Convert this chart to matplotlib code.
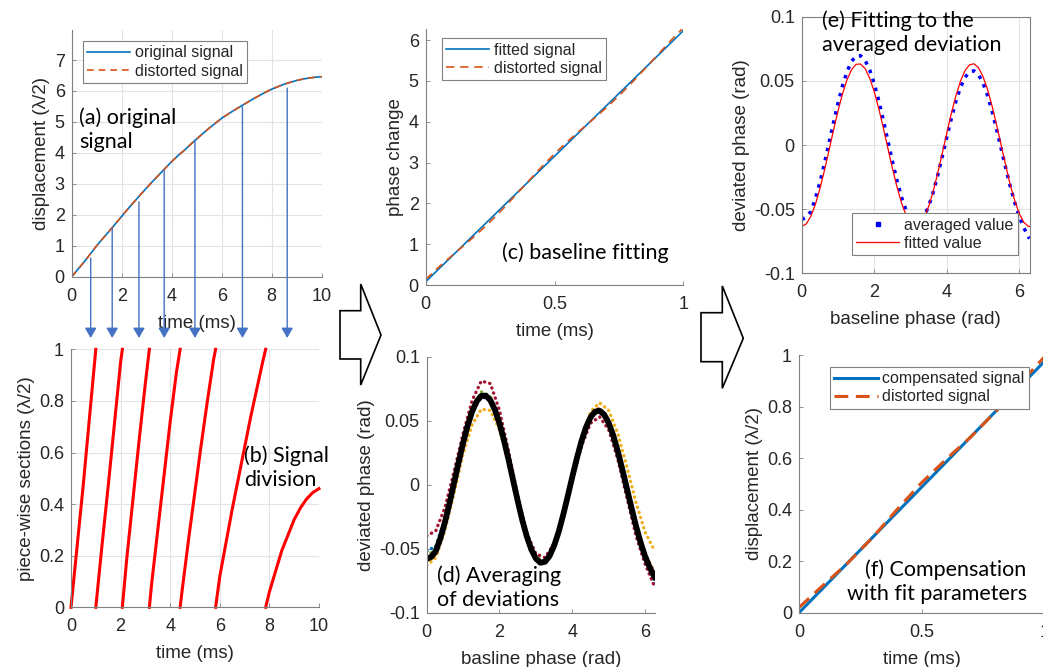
import numpy as np
import matplotlib
matplotlib.use('Agg')
import matplotlib.pyplot as plt
from matplotlib.patches import Polygon
from matplotlib.lines import Line2D

W, H = 1043, 667

# (a) original / distorted displacement (lambda/2) vs time (ms)
time_ms = np.array([0, 0.25, 0.5, 0.75, 1, 1.25, 1.5, 1.75, 2, 2.25, 2.5, 2.75, 3, 3.25, 3.5,
                    3.75, 4, 4.25, 4.5, 4.75, 5, 5.25, 5.5, 5.75, 6, 6.25, 6.5, 6.75, 7, 7.25,
                    7.5, 7.75, 8, 8.25, 8.5, 8.75, 9, 9.25, 9.5, 9.75, 10])
disp = np.array([0, 0.24, 0.48, 0.74, 1.0, 1.24, 1.47, 1.71, 1.95, 2.19, 2.42, 2.65, 2.87, 3.09,
                 3.3, 3.51, 3.72, 3.91, 4.08, 4.27, 4.45, 4.63, 4.8, 4.96, 5.12, 5.25, 5.38, 5.5,
                 5.62, 5.74, 5.85, 5.96, 6.06, 6.14, 6.22, 6.28, 6.34, 6.385, 6.42, 6.445, 6.46])
# times where the signal crosses a whole lambda/2 step
crossings = [1.0, 2.07, 3.16, 4.4, 5.83, 7.85]
# arrows from the curve down to panel (b)
arrow_t = [0.76, 1.62, 2.69, 3.70, 4.93, 6.83, 8.62]
arrow_top = [0.6, 1.57, 2.42, 3.45, 4.42, 5.49, 6.09]

# (c) phase change vs time
t_c = [0, 0.05, 0.1, 0.15, 0.2, 0.25, 0.3, 0.35, 0.4, 0.45, 0.5, 0.55, 0.6, 0.65,
       0.7, 0.75, 0.8, 0.85, 0.9, 0.95, 1.0]
fit_t = [0, 1]
fit_phase = [0.08, 6.23]
dist_phase = [0.138, 0.435, 0.709, 0.977, 1.252, 1.548, 1.867, 2.207, 2.554, 2.895, 3.216,
              3.514, 3.791, 4.062, 4.339, 4.635, 4.954, 5.292, 5.636, 5.98, 6.303]

# (d)/(e) deviated phase vs baseline phase
phase = [0, 0.125, 0.25, 0.375, 0.5, 0.625, 0.75, 0.875, 1.0, 1.125, 1.25, 1.375, 1.5, 1.625,
         1.75, 1.875, 2.0, 2.125, 2.25, 2.375, 2.5, 2.625, 2.75, 2.875, 3.0, 3.125, 3.25, 3.375,
         3.5, 3.625, 3.75, 3.875, 4.0, 4.125, 4.25, 4.375, 4.5, 4.625, 4.75, 4.875, 5.0, 5.125,
         5.25, 5.375, 5.5, 5.625, 5.75, 5.875, 6.0, 6.125, 6.25, 6.28]
avg_dev = [-0.058, -0.0565, -0.0519, -0.0420, -0.0294, -0.0147, 0.0012, 0.0172, 0.0326, 0.0462,
           0.0573, 0.0652, 0.0694, 0.0696, 0.0659, 0.0585, 0.0478, 0.0345, 0.0194, 0.0033,
           -0.0126, -0.0276, -0.0405, -0.0507, -0.0577, -0.0610, -0.0602, -0.0557, -0.0477,
           -0.0369, -0.0236, -0.0090, 0.0061, 0.0206, 0.0338, 0.0447, 0.0526, 0.0571, 0.0578,
           0.0548, 0.0482, 0.0385, 0.0261, 0.0119, -0.0030, -0.0179, -0.0322, -0.0450, -0.0560,
           -0.0645, -0.0715, -0.073]
fit_dev = [-0.0635, -0.0615, -0.0557, -0.0465, -0.0343, -0.0200, -0.0045, 0.0113, 0.0264,
           0.0399, 0.0509, 0.0587, 0.0629, 0.0631, 0.0595, 0.0521, 0.0415, 0.0283, 0.0134,
           -0.0024, -0.0180, -0.0325, -0.0450, -0.0547, -0.0610, -0.0635, -0.0620, -0.0567,
           -0.0479, -0.0362, -0.0220, -0.0066, 0.0092, 0.0245, 0.0382, 0.0496, 0.0579, 0.0625,
           0.0633, 0.0602, 0.0533, 0.0432, 0.0302, 0.0154, -0.0003, -0.0159, -0.0312, -0.0435,
           -0.0536, -0.0603, -0.0634, -0.0635]
# individual sections (coarser grid)
phase_q = [0, 0.25, 0.5, 0.75, 1.0, 1.25, 1.5, 1.75, 2.0, 2.25, 2.5, 2.75, 3.0, 3.25,
           3.5, 3.75, 4.0, 4.25, 4.5, 4.75, 5.0, 5.25, 5.5, 5.75, 6.0, 6.25, 6.28]
dev_red = [-0.040, -0.036, -0.018, 0.010, 0.040, 0.066, 0.081, 0.079, 0.058, 0.026, -0.009,
           -0.038, -0.054, -0.057, -0.046, -0.024, 0.004, 0.030, 0.048, 0.053, 0.043, 0.020,
           -0.010, -0.040, -0.062, -0.079, -0.081]
dev_yellow = [-0.063, -0.057, -0.036, -0.007, 0.024, 0.047, 0.059, 0.058, 0.043, 0.017, -0.014,
              -0.042, -0.059, -0.062, -0.050, -0.026, 0.005, 0.035, 0.057, 0.064, 0.058, 0.040,
              0.014, -0.014, -0.037, -0.051, -0.052]
dev_green = [-0.056, -0.050, -0.028, 0.003, 0.035, 0.060, 0.0725, 0.069, 0.050, 0.020, -0.012,
             -0.040, -0.057, -0.060, -0.047, -0.023, 0.006, 0.034, 0.053, 0.058, 0.048, 0.026,
             -0.003, -0.032, -0.055, -0.069, -0.071]
dev_blue = [-0.052, -0.048, -0.027, 0.002, 0.033, 0.057, 0.069, 0.066, 0.048, 0.019, -0.013,
            -0.041, -0.058, -0.060, -0.048, -0.024, 0.006, 0.034, 0.053, 0.058, 0.048, 0.025,
            -0.005, -0.035, -0.060, -0.076, -0.078]
dev_orange = [-0.058, -0.052, -0.029, 0.001, 0.033, 0.057, 0.069, 0.066, 0.048, 0.019, -0.013,
              -0.041, -0.058, -0.060, -0.047, -0.023, 0.007, 0.035, 0.055, 0.060, 0.050, 0.027,
              -0.002, -0.031, -0.054, -0.068, -0.070]

# (f) compensated vs distorted displacement
t_f = [0, 0.1, 0.2, 0.3, 0.4, 0.5, 0.6, 0.7, 0.8, 0.9, 1.0]
comp_disp = [0, 0.0975, 0.195, 0.2925, 0.39, 0.4875, 0.585, 0.6825, 0.78, 0.8775, 0.975]
dist_disp = [0.02, 0.108, 0.194, 0.292, 0.401, 0.505, 0.596, 0.682, 0.779, 0.888, 0.993]

M_BLUE = '#0072BD'
M_ORANGE = '#D95319'
TXT = '#262626'
SPINE = '#808080'

plt.rcParams['font.family'] = ['Liberation Sans', 'DejaVu Sans']

fig = plt.figure(figsize=(W / 100, H / 100), dpi=100)


def add_ax(l, r, t, b):
    return fig.add_axes([l / W, 1 - b / H, (r - l) / W, (b - t) / H])


def style(ax, grid=False, box=False):
    ax.spines['top'].set_visible(box)
    ax.spines['right'].set_visible(box)
    for s in ax.spines.values():
        s.set_color(SPINE)
        s.set_linewidth(0.8)
    ax.tick_params(direction='in', length=3, width=0.6, color=SPINE,
                   labelsize=13, labelcolor=TXT)
    ax.tick_params(axis='x', pad=8)
    ax.tick_params(axis='y', pad=5)
    if grid:
        ax.grid(True, color='#e3e3e3', lw=0.8)
        ax.set_axisbelow(True)


def legend_at(ax, handles, labels, x, y):
    leg = ax.legend(handles, labels, loc='upper left', bbox_to_anchor=(x / W, 1 - y / H),
                    bbox_transform=fig.transFigure, borderaxespad=0, fontsize=11.5,
                    handlelength=2.7, handletextpad=0.3, borderpad=0.28, labelspacing=0.2,
                    fancybox=False, framealpha=1, edgecolor=SPINE, numpoints=1)
    leg.get_frame().set_linewidth(0.8)
    for t in leg.get_texts():
        t.set_color(TXT)
    return leg


def label(ax, xl, yl):
    ax.set_xlabel(xl, fontsize=13.5, color=TXT, labelpad=7)
    ax.set_ylabel(yl, fontsize=13.5, color=TXT, labelpad=3)


# ---- (a)
ax_a = add_ax(71.7, 321.7, 30, 276.7)
style(ax_a, grid=True)
l1, = ax_a.plot(time_ms, disp, color=M_BLUE, lw=1.2)
l2, = ax_a.plot(time_ms, disp, color=M_ORANGE, lw=1.2, ls=(0, (4, 3)))
ax_a.set_xlim(0, 10)
ax_a.set_ylim(0, 7.97)
ax_a.set_xticks([0, 2, 4, 6, 8, 10])
ax_a.set_yticks(range(8))
label(ax_a, 'time (ms)', 'displacement (\u03bb/2)')
legend_at(ax_a, [l1, l2], ['original signal', 'distorted signal'], 82.7, 41)
for x, top in zip(arrow_t, arrow_top):
    ax_a.annotate('', xy=(x, -1.98), xytext=(x, top), xycoords='data',
                  arrowprops=dict(arrowstyle='-|>,head_length=0.6,head_width=0.35',
                                  color='#4472C4', lw=1, mutation_scale=10,
                                  shrinkA=0, shrinkB=0),
                  annotation_clip=False)

# ---- (b)
ax_b = add_ax(71, 319, 349.3, 607.3)
style(ax_b, grid=True)
edges = [0] + crossings + [10]
for k in range(len(edges) - 1):
    a, b = edges[k], edges[k + 1]
    last = k == len(edges) - 2
    mask = (time_ms > a) & ((time_ms <= b) if last else (time_ms < b))
    xs = [a] + list(time_ms[mask])
    ys = [0] + list(disp[mask] - k)
    if not last:
        xs.append(b)
        ys.append(1)
    ax_b.plot(xs, ys, color='#FF0000', lw=2.2, clip_on=False)
ax_b.set_xlim(0, 10)
ax_b.set_ylim(0, 1)
ax_b.set_xticks([0, 2, 4, 6, 8, 10])
ax_b.set_yticks([0, 0.2, 0.4, 0.6, 0.8, 1])
ax_b.set_yticklabels(['0', '0.2', '0.4', '0.6', '0.8', '1'])
label(ax_b, 'time (ms)', 'piece-wise sections (\u03bb/2)')

# ---- (c)
ax_c = add_ax(425.7, 683.3, 28.6, 285)
style(ax_c)
c1, = ax_c.plot(fit_t, fit_phase, color=M_BLUE, lw=1.2)
c2, = ax_c.plot(t_c, dist_phase, color=M_ORANGE, lw=1.2, ls=(0, (5, 3.5)))
ax_c.set_xlim(0, 1)
ax_c.set_ylim(0, 2 * np.pi)
ax_c.set_xticks([0, 0.5, 1])
ax_c.set_xticklabels(['0', '0.5', '1'])
ax_c.set_yticks(range(7))
label(ax_c, 'time (ms)', 'phase change')
legend_at(ax_c, [c1, c2], ['fitted signal', 'distorted signal'], 441.7, 38.3)

# ---- (d)
ax_d = add_ax(426.7, 655.4, 356.7, 612.7)
style(ax_d)
for ser, col in [(dev_blue, '#0072BD'), (dev_orange, '#D95319'), (dev_green, '#77AC30'),
                 (dev_yellow, '#EDB120'), (dev_red, '#A2142F')]:
    ax_d.plot(phase_q, ser, color=col, lw=2.4, ls=(0, (0.1, 1.5)), dash_capstyle='round')
ax_d.plot(phase, avg_dev, color='black', lw=4.2, solid_capstyle='round')
ax_d.set_xlim(0, 2 * np.pi)
ax_d.set_ylim(-0.1, 0.1)
ax_d.set_xticks([0, 2, 4, 6])
ax_d.set_yticks([-0.1, -0.05, 0, 0.05, 0.1])
ax_d.set_yticklabels(['-0.1', '-0.05', '0', '0.05', '0.1'])
label(ax_d, 'basline phase (rad)', 'deviated phase (rad)')

# ---- (e)
ax_e = add_ax(801.7, 1029.6, 16.7, 273.3)
style(ax_e, grid=True, box=True)
ax_e.plot(phase, avg_dev, color='#0000FF', lw=2.5, ls=(0, (1, 1.7)), dash_capstyle='butt')
ax_e.plot(phase, fit_dev, color='#FF0000', lw=0.9)
ax_e.set_xlim(0, 2 * np.pi)
ax_e.set_ylim(-0.1, 0.1)
ax_e.set_xticks([0, 2, 4, 6])
ax_e.set_yticks([-0.1, -0.05, 0, 0.05, 0.1])
ax_e.set_yticklabels(['-0.1', '-0.05', '0', '0.05', '0.1'])
label(ax_e, 'baseline phase (rad)', 'deviated phase (rad)')
h_avg = Line2D([], [], ls='none', marker='s', ms=3, color='#0000FF')
h_fit = Line2D([], [], color='#FF0000', lw=0.9)
legend_at(ax_e, [h_avg, h_fit], ['averaged value', 'fitted value'], 851.7, 213.3)

# ---- (f)
ax_f = add_ax(799, 1044.4, 355, 612.7)
style(ax_f)
f1, = ax_f.plot(t_f, comp_disp, color=M_BLUE, lw=2.2)
f2, = ax_f.plot(t_f, dist_disp, color=M_ORANGE, lw=2.2, ls=(0, (4.5, 2.5)))
ax_f.set_xlim(0, 1)
ax_f.set_ylim(0, 1)
ax_f.set_xticks([0, 0.5, 1])
ax_f.set_xticklabels(['0', '0.5', '1'])
ax_f.set_yticks([0, 0.2, 0.4, 0.6, 0.8, 1])
ax_f.set_yticklabels(['0', '0.2', '0.4', '0.6', '0.8', '1'])
label(ax_f, 'time (ms)', 'displacement (\u03bb/2)')
legend_at(ax_f, [f1, f2], ['compensated signal', 'distorted signal'], 830, 366.7)

# ---- panel captions
cap = dict(family='Lato', fontsize=15.5, color='black', linespacing=1.27, va='top', zorder=10)
fig.text(79 / W, 1 - 107 / H, '(a) original\nsignal', ha='left', **cap)
fig.text(244.3 / W, 1 - 445 / H, '(b) Signal\ndivision', ha='left', **cap)
fig.text(501.7 / W, 1 - 242 / H, '(c) baseline fitting', ha='left', **cap)
fig.text(436.7 / W, 1 - 565 / H, '(d) Averaging\nof deviations', ha='left', **cap)
fig.text(821.7 / W, 1 - 10 / H, '(e) Fitting to the\naveraged deviation', ha='left', **cap)
fig.text(1026.7 / W, 1 - 559 / H, '(f) Compensation\nwith fit parameters', ha='right',
         multialignment='right', **cap)

# ---- block arrows between columns
for pts in [[(340, 310.7), (360.7, 310.7), (360.7, 284), (381, 335), (360.7, 385),
             (360.7, 359), (340, 359)],
            [(701, 312.7), (722.3, 312.7), (722.3, 286), (743.3, 338.3), (722.3, 388.3),
             (722.3, 361.7), (701, 361.7)]]:
    fpts = [(x / W, 1 - y / H) for x, y in pts]
    fig.add_artist(Polygon(fpts, closed=True, transform=fig.transFigure,
                           facecolor='white', edgecolor='black', lw=1.2))

fig.savefig('out.png', dpi=100)
